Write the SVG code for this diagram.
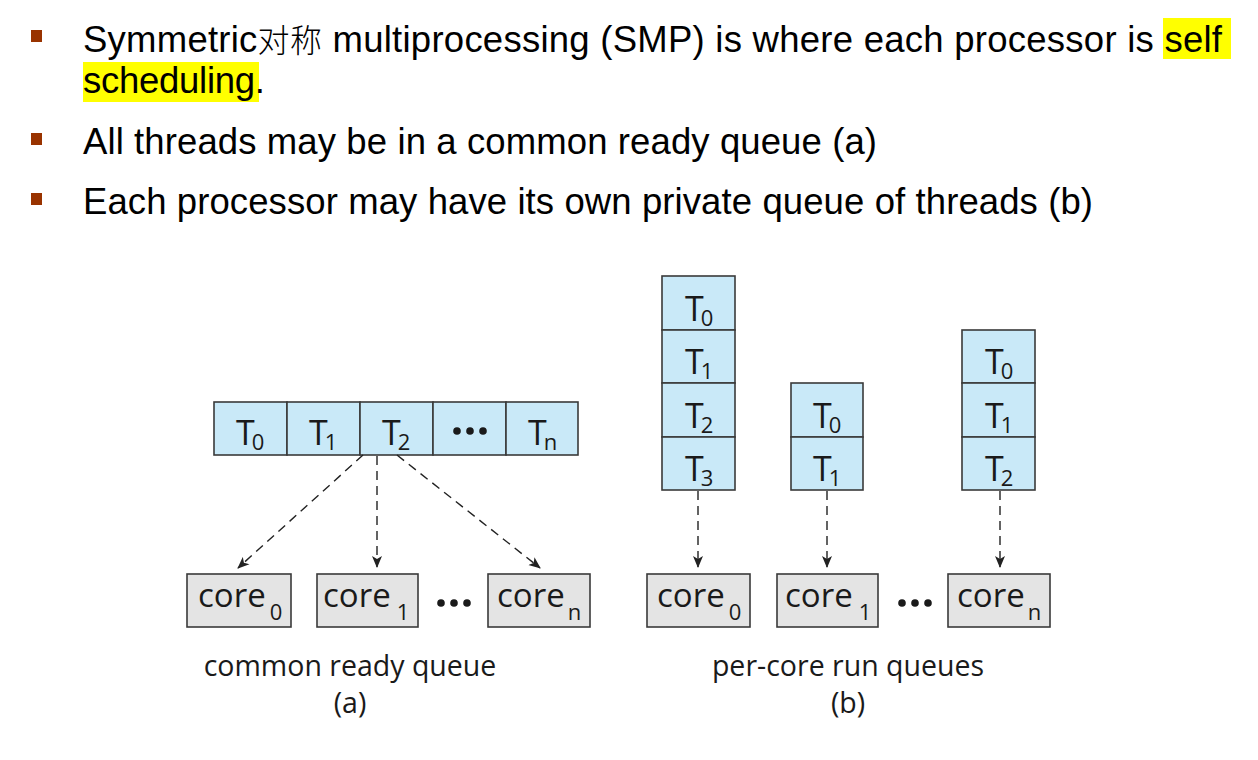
<svg xmlns="http://www.w3.org/2000/svg" width="1258" height="760" viewBox="0 0 1258 760">
<defs>
<style>
.bt{font-family:"Liberation Sans",Arial,sans-serif;font-size:36.5px;fill:#000}
.cjk{font-family:"Noto Sans CJK SC",sans-serif;font-size:32px;font-weight:300}
.bul{fill:#993300}
.hl{fill:#ffff00}
.cell{fill:#c9e9f8;stroke:#3a3a3a;stroke-width:1.6}
.core{fill:#e4e4e4;stroke:#3a3a3a;stroke-width:1.6}
.tl{font-family:"Open Sans","Noto Sans",sans-serif;font-size:34px;fill:#1a1a1a}
.sub{font-size:22px}
.cl{font-family:"Open Sans","Noto Sans",sans-serif;font-size:33px;fill:#1a1a1a}
.lab{font-family:"Open Sans","Noto Sans",sans-serif;font-size:28.5px;fill:#1a1a1a;text-anchor:middle}
.dash{fill:none;stroke:#222;stroke-width:1.4;stroke-dasharray:9 6;marker-end:url(#ah)}
.dot{fill:#1a1a1a}
</style>
<marker id="ah" markerWidth="12" markerHeight="12" refX="11" refY="6" orient="auto" markerUnits="userSpaceOnUse" viewBox="0 0 12 12">
<path d="M0,1 L12,6 L0,11 L3,6 Z" fill="#222"/>
</marker>
</defs>

<g id="bullets">
<rect class="hl" x="1163" y="18" width="68" height="41"/>
<rect class="hl" x="83" y="62" width="176" height="40"/>
<rect class="bul" x="31" y="30" width="11" height="12"/>
<rect class="bul" x="31" y="133" width="11" height="12"/>
<rect class="bul" x="31" y="193" width="11" height="12"/>
<text class="bt" x="83" y="52" textLength="1139" lengthAdjust="spacing">Symmetric<tspan class="cjk">对称</tspan> multiprocessing (SMP) is where each processor is self</text>
<text class="bt" x="83" y="93" textLength="182" lengthAdjust="spacing">scheduling.</text>
<text class="bt" x="83" y="154" textLength="794" lengthAdjust="spacing">All threads may be in a common ready queue (a)</text>
<text class="bt" x="83" y="214" textLength="1010" lengthAdjust="spacing">Each processor may have its own private queue of threads (b)</text>
</g>

<g id="queue-a">
<rect class="cell" x="214" y="402" width="73" height="53"/>
<rect class="cell" x="287" y="402" width="73" height="53"/>
<rect class="cell" x="360" y="402" width="73" height="53"/>
<rect class="cell" x="433" y="402" width="73" height="53"/>
<rect class="cell" x="506" y="402" width="72" height="53"/>
<text class="tl" x="236" y="445">T<tspan class="sub" dx="-3" dy="5">0</tspan></text>
<text class="tl" x="309" y="445">T<tspan class="sub" dx="-3" dy="5">1</tspan></text>
<text class="tl" x="382" y="445">T<tspan class="sub" dx="-3" dy="5">2</tspan></text>
<circle class="dot" cx="457" cy="431" r="3.8"/>
<circle class="dot" cx="470" cy="431" r="3.8"/>
<circle class="dot" cx="483" cy="431" r="3.8"/>
<text class="tl" x="528" y="445">T<tspan class="sub" dx="-3" dy="5">n</tspan></text>
</g>

<g id="core0-a">
<rect class="core" x="187" y="574" width="104" height="53"/>
<text class="cl" x="198" y="607">core<tspan class="sub" dx="4" dy="13">0</tspan></text>
</g>
<g id="core1-a">
<rect class="core" x="317" y="574" width="101" height="53"/>
<text class="cl" x="323" y="607">core<tspan class="sub" dx="6" dy="13">1</tspan></text>
</g>
<g id="coren-a">
<rect class="core" x="488" y="574" width="102" height="53"/>
<text class="cl" x="497" y="607">core<tspan class="sub" dx="3" dy="13">n</tspan></text>
</g>
<g id="dots-a">
<circle class="dot" cx="441" cy="603" r="3.8"/>
<circle class="dot" cx="454" cy="603" r="3.8"/>
<circle class="dot" cx="467" cy="603" r="3.8"/>
</g>

<g id="stack0-b">
<rect class="cell" x="662" y="276" width="73" height="54"/>
<rect class="cell" x="662" y="330" width="73" height="53"/>
<rect class="cell" x="662" y="383" width="73" height="54"/>
<rect class="cell" x="662" y="437" width="73" height="53"/>
<text class="tl" x="685" y="321">T<tspan class="sub" dx="-3" dy="5">0</tspan></text>
<text class="tl" x="685" y="374">T<tspan class="sub" dx="-3" dy="5">1</tspan></text>
<text class="tl" x="685" y="428">T<tspan class="sub" dx="-3" dy="5">2</tspan></text>
<text class="tl" x="685" y="481">T<tspan class="sub" dx="-3" dy="5">3</tspan></text>
</g>
<g id="stack1-b">
<rect class="cell" x="791" y="383" width="72" height="54"/>
<rect class="cell" x="791" y="437" width="72" height="53"/>
<text class="tl" x="813" y="428">T<tspan class="sub" dx="-3" dy="5">0</tspan></text>
<text class="tl" x="813" y="481">T<tspan class="sub" dx="-3" dy="5">1</tspan></text>
</g>
<g id="stackn-b">
<rect class="cell" x="962" y="330" width="73" height="53"/>
<rect class="cell" x="962" y="383" width="73" height="54"/>
<rect class="cell" x="962" y="437" width="73" height="53"/>
<text class="tl" x="985" y="374">T<tspan class="sub" dx="-3" dy="5">0</tspan></text>
<text class="tl" x="985" y="428">T<tspan class="sub" dx="-3" dy="5">1</tspan></text>
<text class="tl" x="985" y="481">T<tspan class="sub" dx="-3" dy="5">2</tspan></text>
</g>

<g id="core0-b">
<rect class="core" x="647" y="574" width="103" height="53"/>
<text class="cl" x="657" y="607">core<tspan class="sub" dx="4" dy="13">0</tspan></text>
</g>
<g id="core1-b">
<rect class="core" x="777" y="574" width="101" height="53"/>
<text class="cl" x="785" y="607">core<tspan class="sub" dx="6" dy="13">1</tspan></text>
</g>
<g id="coren-b">
<rect class="core" x="948" y="574" width="102" height="53"/>
<text class="cl" x="957" y="607">core<tspan class="sub" dx="3" dy="13">n</tspan></text>
</g>
<g id="dots-b">
<circle class="dot" cx="902" cy="603" r="3.8"/>
<circle class="dot" cx="915" cy="603" r="3.8"/>
<circle class="dot" cx="928" cy="603" r="3.8"/>
</g>

<g id="connectors">
<line class="dash" x1="363" y1="455" x2="238" y2="568"/>
<line class="dash" x1="377" y1="456" x2="377" y2="567"/>
<line class="dash" x1="397" y1="455" x2="540" y2="568"/>
<line class="dash" x1="698" y1="491" x2="698" y2="567"/>
<line class="dash" x1="827" y1="491" x2="827" y2="567"/>
<line class="dash" x1="1000" y1="491" x2="1000" y2="567"/>
</g>

<g id="labels">
<text class="lab" x="350" y="676">common ready queue</text>
<text class="lab" x="350" y="713">(a)</text>
<text class="lab" x="848" y="676">per-core run queues</text>
<text class="lab" x="848" y="713">(b)</text>
</g>
</svg>
